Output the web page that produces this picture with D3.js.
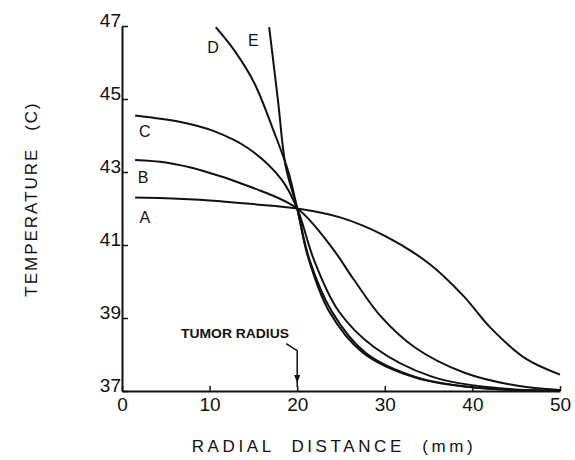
<!DOCTYPE html>
<html>
<head>
<meta charset="utf-8">
<script src="https://cdn.jsdelivr.net/npm/d3@7"></script>
<style>
  body { margin: 0; background: #fff; }
  text { font-family: "Liberation Sans", Arial, sans-serif; fill: #111; }
</style>
</head>
<body>
<div id="chart"></div>
<script>
// radial distance (mm) vs temperature (C)
const xTicks = [0, 10, 20, 30, 40, 50];
const yTicks = [37, 39, 41, 43, 45, 47];

const curveA = [[1.5, 42.3], [5, 42.28], [10, 42.22], [15, 42.12], [20, 42.0], [25, 41.75], [30, 41.25],
                [35, 40.5], [39, 39.6], [42, 38.75], [46, 37.9], [50, 37.45]];
const curveB = [[1.5, 43.33], [5, 43.26], [9, 43.05], [14.7, 42.59], [20, 42.0], [23.9, 40.95], [26.5, 40.04],
                [29.6, 39.03], [33.4, 38.2], [39.1, 37.5], [45, 37.15], [50, 37.03]];
const curveC = [[1.5, 44.55], [6.7, 44.37], [10.5, 44.12], [14.4, 43.65], [18.2, 42.8], [20, 42.0],
                [21.9, 40.6], [24.7, 39.2], [28.8, 38.2], [35.3, 37.4], [42, 37.1], [50, 37.0]];
const curveD = [[10.7, 46.97], [12.8, 46.34], [15.1, 45.44], [17.4, 44.07], [19, 43.0], [20, 42.0],
                [21.4, 40.6], [23.9, 39.2], [27.8, 38.05], [33.6, 37.38], [40, 37.1], [50, 37.0]];
const curveE = [[16.8, 46.97], [17.8, 44.97], [18.7, 43.14], [20, 42.0],
                [21.2, 40.7], [23.6, 39.2], [27.5, 38.05], [33.3, 37.38], [40, 37.1], [50, 37.0]];

const curveNames = ["A", "B", "C", "D", "E"];
const curves = [curveA, curveB, curveC, curveD, curveE];
// where each letter sits, in data units
const labelAt = [[2.6, 41.75], [2.4, 42.85], [2.6, 44.1], [10.4, 46.4], [15.0, 46.6]];

const tumorRadius = 20;

class TempChart {
  constructor(el, props) {
    this.width = props.width;
    this.height = props.height;
    this.svg = d3.select(el)
                 .append('svg')
                 .attr('width', props.width)
                 .attr('height', props.height);
  }

  setScales() {
    this.x = d3.scaleLinear().domain([0, 50]).range([122, 560]);
    this.y = d3.scaleLinear().domain([37, 47]).range([391, 26]);
  }

  drawChart() {
    this.setScales();
    const x = this.x, y = this.y, svg = this.svg;

    const line = d3.line()
                   .x(d => x(d[0]))
                   .y(d => y(d[1]))
                   .curve(d3.curveCatmullRom.alpha(0.5));

    svg.append("g").selectAll("path")
       .data(curves)
       .enter()
       .append("path")
       .attr("d", line)
       .attr("fill", "none")
       .attr("stroke", "#111")
       .attr("stroke-width", 2);

    const yAxis = d3.axisLeft(y).tickValues(yTicks).tickSize(-6).tickSizeOuter(0)
                    .tickPadding(1).tickFormat(d3.format("d"));
    const gy = svg.append("g")
       .attr("transform", "translate(" + x(0) + ",0)")
       .call(yAxis);
    gy.selectAll("text").attr("dy", "0.02em").style("font-size", "19px");

    const xAxis = d3.axisBottom(x).tickValues(xTicks).tickSize(-5).tickSizeOuter(0)
                    .tickPadding(7).tickFormat(d3.format("d"));
    const gx = svg.append("g")
       .attr("transform", "translate(0," + y(37) + ")")
       .call(xAxis);
    gx.selectAll("text").style("font-size", "19px");

    [gx, gy].forEach(g => {
      g.select(".domain").attr("stroke", "#111").attr("stroke-width", 2);
      g.selectAll(".tick line").attr("stroke", "#111").attr("stroke-width", 1.5);
      g.selectAll(".tick text").attr("fill", "#111").style("font-family", "'Liberation Sans', Arial, sans-serif");
    });

    // curve letters
    svg.append("g").selectAll("text")
       .data(curveNames)
       .enter()
       .append("text")
       .attr("x", (d, i) => x(labelAt[i][0]))
       .attr("y", (d, i) => y(labelAt[i][1]))
       .attr("text-anchor", "middle")
       .attr("dominant-baseline", "central")
       .style("font-size", "16px")
       .text(d => d);

    // tumor radius marker
    svg.append("text")
       .attr("x", x(12.9))
       .attr("y", y(38.45))
       .attr("text-anchor", "middle")
       .attr("textLength", 108)
       .attr("lengthAdjust", "spacingAndGlyphs")
       .style("font-size", "13px")
       .style("font-weight", "bold")
       .text("TUMOR RADIUS");

    const ax = x(tumorRadius);
    svg.append("path")
       .attr("d", "M" + (ax - 11) + "," + y(38.3) + "L" + ax + "," + (y(38.3) + 7) + "L" + ax + "," + (y(37) - 4))
       .attr("fill", "none")
       .attr("stroke", "#111")
       .attr("stroke-width", 1.5);
    svg.append("path")
       .attr("d", "M" + (ax - 3) + "," + (y(37) - 16) + "L" + (ax + 3) + "," + (y(37) - 16) + "L" + ax + "," + (y(37) - 8) + "Z")
       .attr("fill", "#111");

    // axis titles
    svg.append("text")
       .attr("x", 334)
       .attr("y", 452)
       .attr("text-anchor", "middle")
       .style("font-size", "17px")
       .style("letter-spacing", "3.6px")
       .style("word-spacing", "9px")
       .text("RADIAL DISTANCE (mm)");

    svg.append("text")
       .attr("transform", "translate(37,199) rotate(-90)")
       .attr("text-anchor", "middle")
       .style("font-size", "17px")
       .style("letter-spacing", "2px")
       .style("word-spacing", "10px")
       .text("TEMPERATURE (C)");
  }
}

const chart = new TempChart("#chart", { width: 575, height: 460 });
chart.drawChart();
</script>
</body>
</html>
